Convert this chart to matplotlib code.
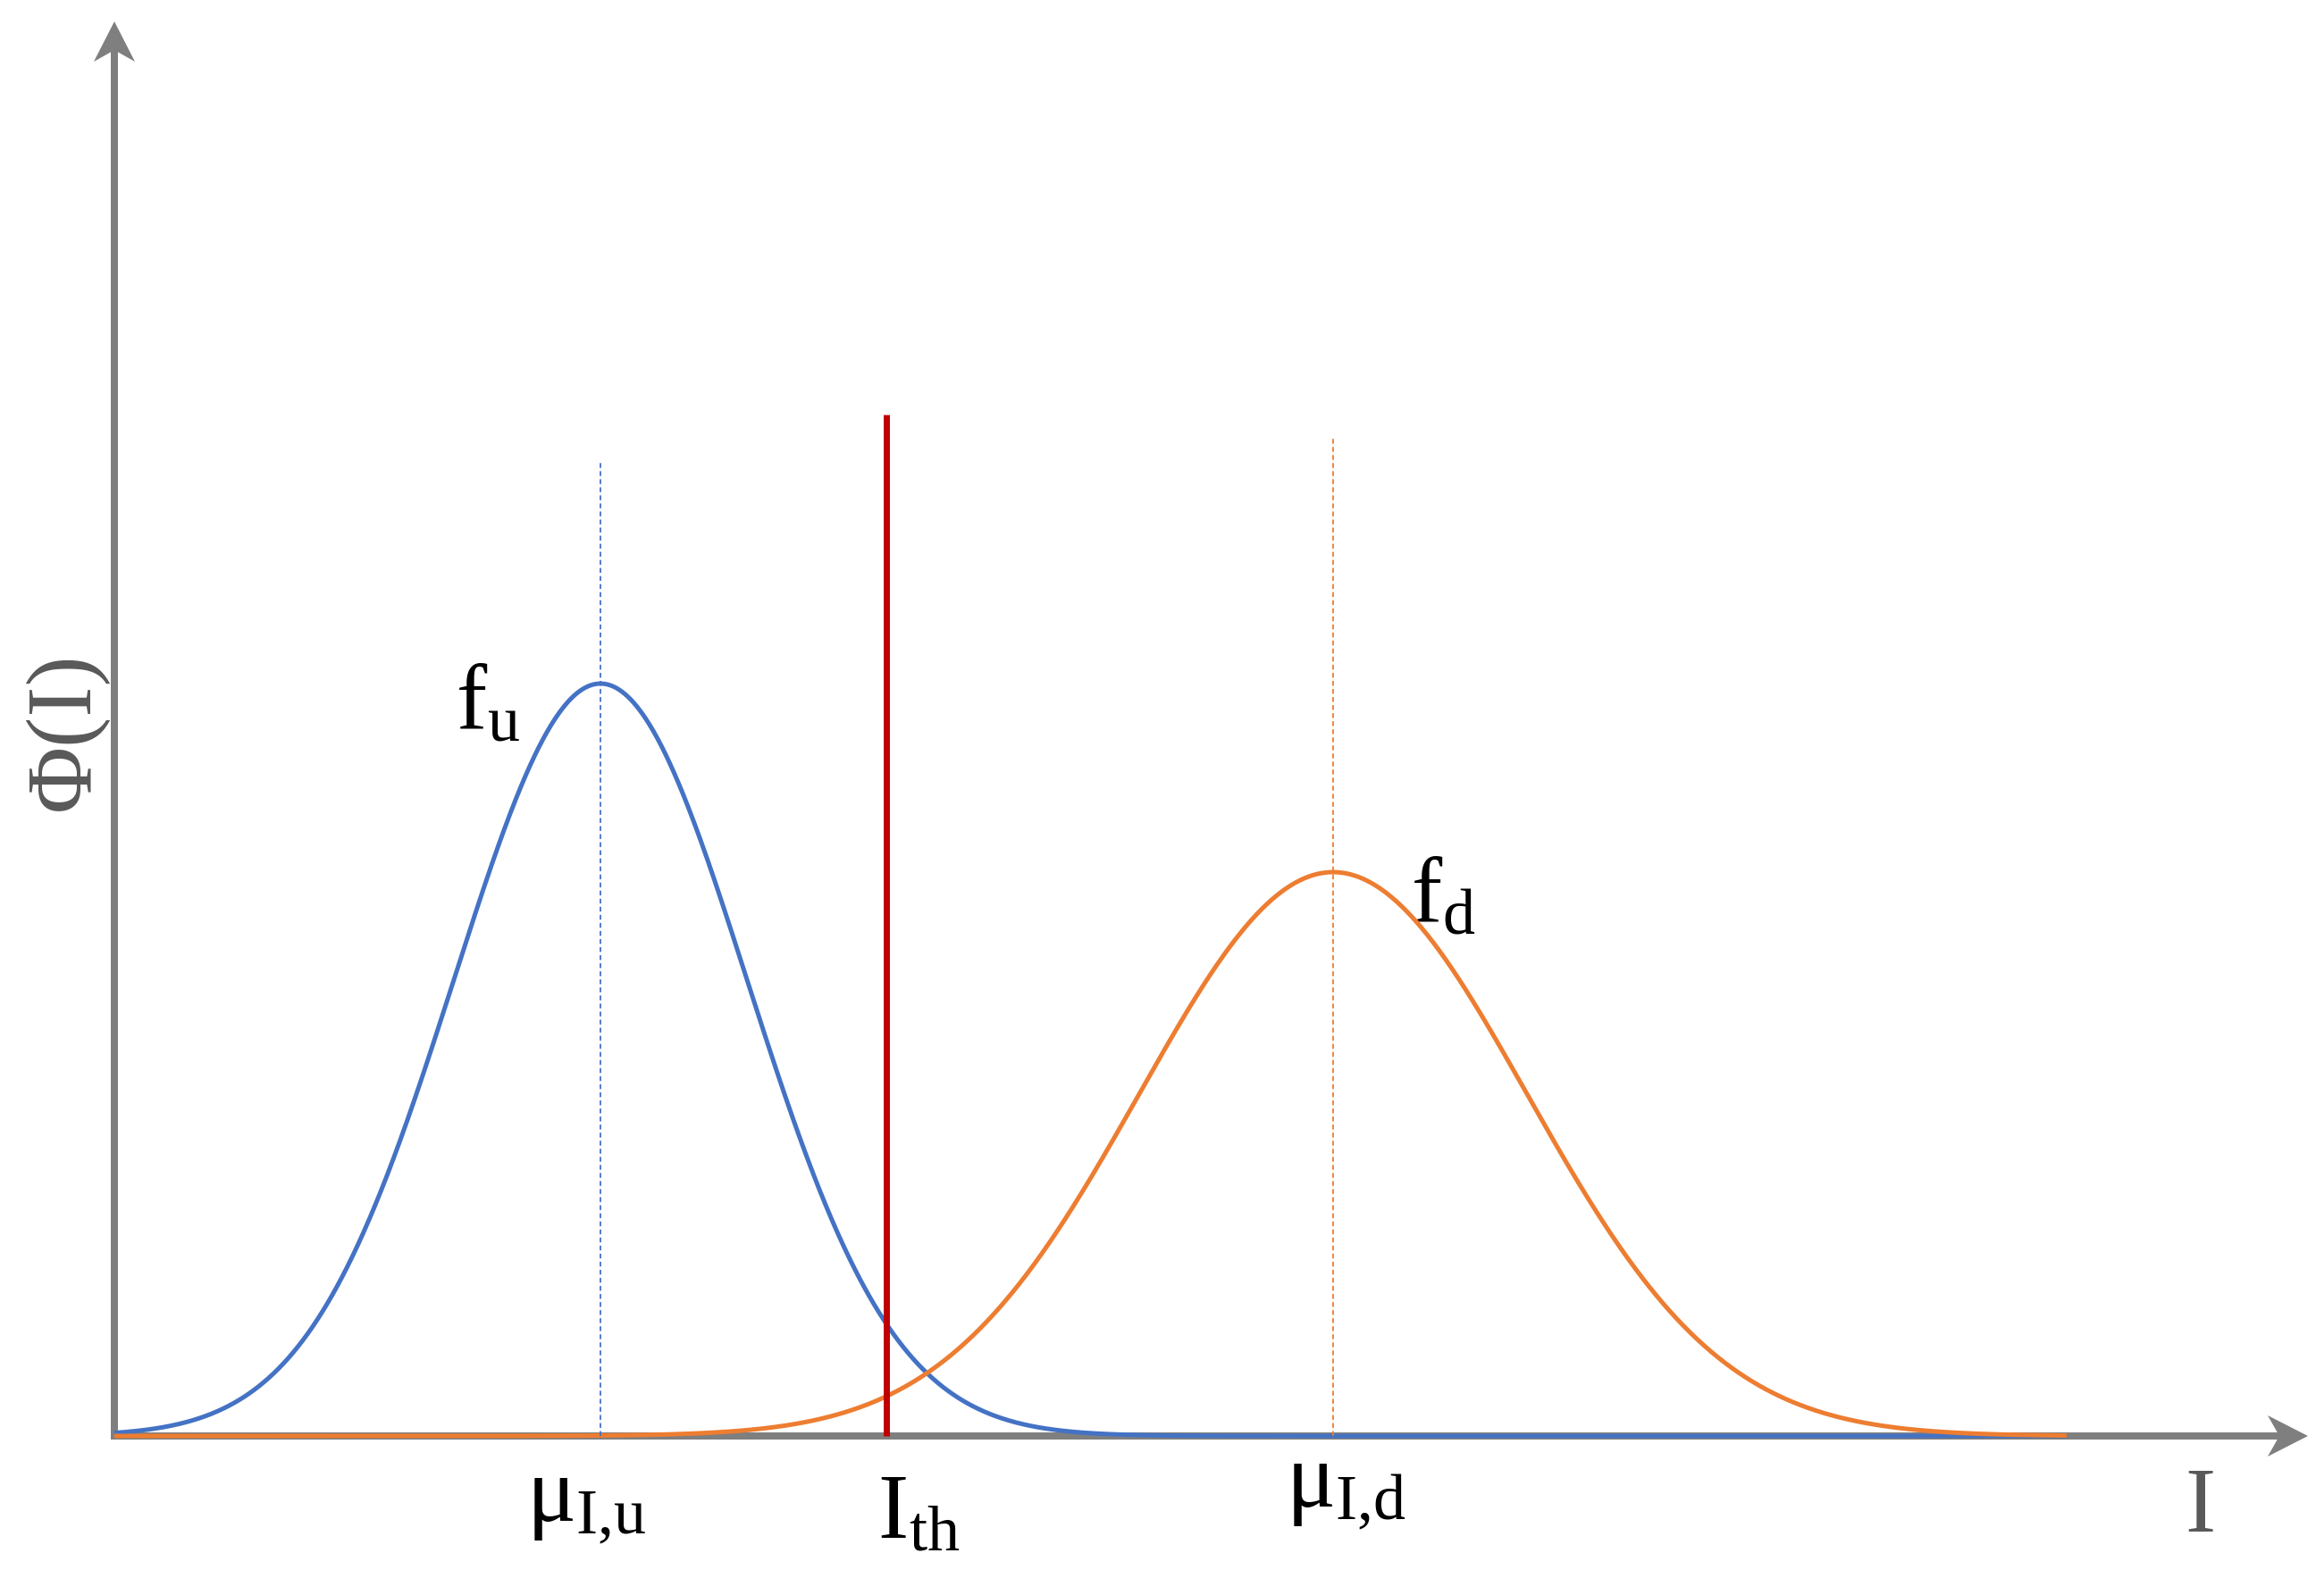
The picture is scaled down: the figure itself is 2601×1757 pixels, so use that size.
import numpy as np
import matplotlib
matplotlib.use("Agg")
import matplotlib.pyplot as plt
from matplotlib.patches import Polygon

plt.rcParams['font.family'] = ['Liberation Serif', 'DejaVu Serif']
plt.rcParams['mathtext.fontset'] = 'custom'
plt.rcParams['mathtext.rm'] = 'Liberation Serif'
plt.rcParams['mathtext.it'] = 'Liberation Serif'
plt.rcParams['mathtext.bf'] = 'Liberation Serif:bold'

# ---- data (arbitrary units) ----
series_names = ["f_u", "f_d"]
means = [5.44, 13.64]          # mu_I,u , mu_I,d
sigmas = [1.64, 2.17]
peaks = [8.42, 6.31]
mean_line_tops = [10.89, 11.16]
threshold = 8.64               # I_th
threshold_top = 11.43
x_range = [0.0, 21.85]
x_axis_end = 24.55
y_axis_end = 15.83

curve_colors = ["#4472C4", "#ED7D31"]
axis_color = "#7F7F7F"
label_gray = "#595959"
red = "#C00000"

W, H = 2601, 1758
fig = plt.figure(figsize=(W / 100, H / 100), dpi=100)
ax = fig.add_axes([0, 0, 1, 1])
ax.set_xlim(-1.28, W / 100 - 1.28)
ax.set_ylim(-1.50, H / 100 - 1.50)
ax.axis('off')

# axes with stealth arrows
lw_axis = 5.76
ax.plot([0, x_axis_end - 0.3], [0, 0], color=axis_color, lw=lw_axis,
        solid_capstyle='butt', zorder=1)
ax.plot([0, 0], [-0.04, y_axis_end - 0.3], color=axis_color, lw=lw_axis,
        solid_capstyle='butt', zorder=1)
hl, hw, notch = 0.45, 0.23, 0.32
ax.add_patch(Polygon([[x_axis_end, 0], [x_axis_end - hl, hw],
                      [x_axis_end - notch, 0], [x_axis_end - hl, -hw]],
                     closed=True, color=axis_color, lw=0, zorder=1))
ax.add_patch(Polygon([[0, y_axis_end], [hw, y_axis_end - hl],
                      [0, y_axis_end - notch], [-hw, y_axis_end - hl]],
                     closed=True, color=axis_color, lw=0, zorder=1))

# gaussian curves
x = np.linspace(x_range[0], x_range[1], 2000)
for m, s, p, c, z in zip(means, sigmas, peaks, curve_colors, [3, 4]):
    y = p * np.exp(-0.5 * ((x - m) / s) ** 2)
    ax.plot(x, y, color=c, lw=3.6, zorder=z, solid_capstyle='butt')

# dashed mean lines
for m, top, c in zip(means, mean_line_tops, curve_colors):
    ax.plot([m, m], [0, top], color=c, lw=1.3, dashes=(3, 2), zorder=5)

# threshold line
ax.plot([threshold, threshold], [0, threshold_top], color=red, lw=5.0,
        solid_capstyle='butt', zorder=6)

fs = 74
ax.text(4.18, 8.18, r'$\mathrm{f}_{\mathrm{u}}$', fontsize=fs, ha='center', va='center', color='black')
ax.text(14.87, 6.02, r'$\mathrm{f}_{\mathrm{d}}$', fontsize=fs, ha='center', va='center', color='black')
ax.text(5.28, -0.76, r'$\mathrm{μ}_{\mathrm{I{,}u}}$', fontsize=fs, ha='center', va='center', color='black')
ax.text(9.00, -0.88, r'$\mathrm{I}_{\mathrm{th}}$', fontsize=fs, ha='center', va='center', color='black')
ax.text(13.78, -0.60, r'$\mathrm{μ}_{\mathrm{I{,}d}}$', fontsize=fs, ha='center', va='center', color='black')
ax.text(23.34, -0.81, 'I', fontsize=fs, ha='center', va='center', color=label_gray)
ax.text(-0.54, 7.90, 'Φ(I)', fontsize=fs, ha='center', va='center', color=label_gray,
        rotation=90)

fig.savefig("out.png", dpi=100, facecolor='white')
